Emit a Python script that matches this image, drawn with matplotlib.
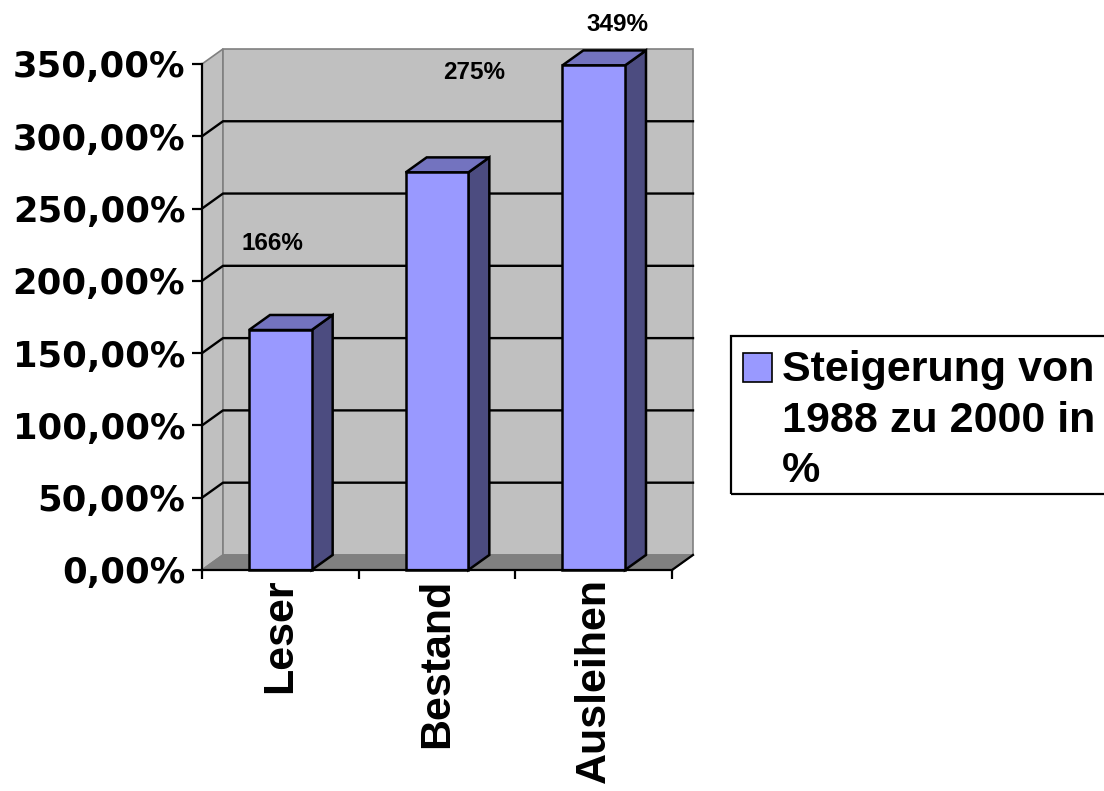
import matplotlib
matplotlib.use("Agg")
import matplotlib.pyplot as plt
from matplotlib.patches import Polygon, Rectangle

# Steigerung 1988 -> 2000 in Prozent
categories = ["Leser", "Bestand", "Ausleihen"]
values = [166, 275, 349]
series_name = "Steigerung von\n1988 zu 2000 in\n%"
yticks = [0, 50, 100, 150, 200, 250, 300, 350]

# where the value labels sit (category offset, y in %)
label_dx = [-0.05, 0.24, 0.15]
label_y = [226, 344, 377]

front_col = "#9999ff"
side_col = "#4c4c80"
top_col = "#7373bf"
wall_col = "#c0c0c0"
floor_col = "#808080"

W, H = 1104, 791
fig = plt.figure(figsize=(W / 100, H / 100), dpi=100)
ax = fig.add_axes([202 / W, (H - 570) / H, 470 / W, 506 / H])
ax.set_xlim(-0.5, 2.5)
ax.set_ylim(0, 350)
ax.patch.set_visible(False)

# depth of the fake 3d box, in data units
dx, dy = 0.134, 10.4
x0, x1 = -0.5, 2.5
top = yticks[-1]

# walls and floor
side = Polygon([(x0, 0), (x0 + dx, dy), (x0 + dx, top + dy), (x0, top)],
               facecolor=wall_col, edgecolor="#808080", lw=1.2, clip_on=False, zorder=1)
back = Polygon([(x0 + dx, dy), (x1 + dx, dy), (x1 + dx, top + dy), (x0 + dx, top + dy)],
               facecolor=wall_col, edgecolor="#808080", lw=1.2, clip_on=False, zorder=1)
floor = Polygon([(x0, 0), (x1, 0), (x1 + dx, dy), (x0 + dx, dy)],
                facecolor=floor_col, edgecolor="#808080", lw=1.2, clip_on=False, zorder=1)
for p in (side, back, floor):
    ax.add_patch(p)
ax.plot([x1, x1 + dx], [0, dy], color="black", lw=1.6, clip_on=False, zorder=2)

# gridlines across side wall and back wall
for y in yticks[1:-1]:
    ax.plot([x0, x0 + dx, x1 + dx], [y, y + dy, y + dy], color="black", lw=1.7,
            clip_on=False, zorder=2)

# bars: front, side, top faces
w = 0.4
for i, v in enumerate(values):
    a, b = i - w / 2, i + w / 2
    ax.add_patch(Polygon([(b, 0), (b + dx, dy), (b + dx, v + dy), (b, v)],
                         facecolor=side_col, edgecolor="black", lw=1.8, clip_on=False, zorder=3))
    ax.add_patch(Polygon([(a, v), (b, v), (b + dx, v + dy), (a + dx, v + dy)],
                         facecolor=top_col, edgecolor="black", lw=1.8, clip_on=False, zorder=3))
    ax.add_patch(Rectangle((a, 0), w, v, facecolor=front_col, edgecolor="black",
                           lw=1.8, clip_on=False, zorder=4))
    ax.text(i + label_dx[i], label_y[i], f"{v}%", ha="center", va="center",
            fontsize=17.5, fontweight="bold", family="Liberation Sans", zorder=5)

# axes
for s in ("top", "right"):
    ax.spines[s].set_visible(False)
for s in ("left", "bottom"):
    ax.spines[s].set_linewidth(1.6)
    ax.spines[s].set_zorder(6)

ax.set_yticks(yticks)
ax.set_yticklabels([f"{t:.2f}%".replace(".", ",") for t in yticks],
                   family="DejaVu Sans", fontweight="bold", fontsize=25.5)
ax.tick_params(axis="y", length=7, width=1.6, pad=5)

ax.set_xticks([x0 + k for k in range(len(categories) + 1)])
ax.set_xticklabels([])
ax.tick_params(axis="x", which="major", length=6.5, width=1.6)
ax.set_xticks(range(len(categories)), minor=True)
ax.set_xticklabels(categories, minor=True, rotation=90, family="Liberation Sans",
                   fontweight="bold", fontsize=31)
ax.tick_params(axis="x", which="minor", length=0, pad=6)

# legend box, cut off at the right border
fig.add_artist(Rectangle((731 / W, (H - 494) / H), (1120 - 731) / W, (494 - 336) / H,
                         transform=fig.transFigure, fill=False, edgecolor="black", lw=1.6))
fig.add_artist(Rectangle((743 / W, (H - 382) / H), 29 / W, 29 / H,
                         transform=fig.transFigure, facecolor=front_col,
                         edgecolor="black", lw=1.2))
fig.text(782 / W, (H - 350) / H, series_name, ha="left", va="top",
         family="Liberation Sans", fontweight="bold", fontsize=31, linespacing=1.34)

fig.savefig("out.png", dpi=100)
